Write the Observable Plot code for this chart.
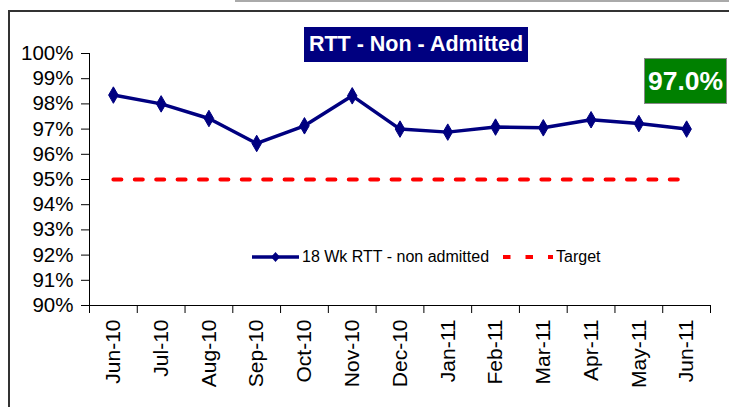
<!DOCTYPE html>
<html><head><meta charset="utf-8">
<script src="https://cdn.jsdelivr.net/npm/d3@7"></script>
<script src="https://cdn.jsdelivr.net/npm/@observablehq/plot@0.6"></script>
<style>
body{margin:0;background:#fff;}
#wrap{position:relative;width:729px;height:407px;overflow:hidden;font-family:Arial,"Liberation Sans",sans-serif;background:#fff;}
#chart{position:absolute;left:0;top:0;}
.frameL{position:absolute;left:8px;top:10px;width:2px;height:400px;background:#333;}
.frameT{position:absolute;left:8px;top:10px;width:730px;height:2px;background:#333;}
.greyT{position:absolute;left:235px;top:0px;width:500px;height:2px;background:#aaa;}
#title{position:absolute;left:304px;top:27px;width:224px;height:35px;background:#000080;color:#fff;font-weight:bold;font-size:21.5px;line-height:35px;text-align:center;white-space:nowrap;}
#value{position:absolute;left:644px;top:58px;width:81px;height:44px;background:#008000;border:1px solid #888;color:#fff;font-weight:bold;font-size:26.5px;line-height:44px;text-align:center;}
#legend{position:absolute;left:252px;top:246px;height:20px;font-size:16px;line-height:20px;white-space:nowrap;color:#000;}
#legend span, #legend svg{vertical-align:middle;}
</style></head><body>
<div id="wrap">
  <div id="chart"></div>
  <div class="greyT"></div>
  <div class="frameL"></div>
  <div class="frameT"></div>
  <div id="title">RTT - Non - Admitted</div>
  <div id="value">97.0%</div>
  <div id="legend"></div>
</div>
<script>
const months = ["Jun-10","Jul-10","Aug-10","Sep-10","Oct-10","Nov-10","Dec-10","Jan-11","Feb-11","Mar-11","Apr-11","May-11","Jun-11"];
const rttValues = [0.9835, 0.9800, 0.9742, 0.9643, 0.9713, 0.9832, 0.9700, 0.9688, 0.9708, 0.9705, 0.9737, 0.9722, 0.9700];
const targetValues = [0.95, 0.95, 0.95, 0.95, 0.95, 0.95, 0.95, 0.95, 0.95, 0.95, 0.95, 0.95, 0.95];
const yTicks = [0.90, 0.91, 0.92, 0.93, 0.94, 0.95, 0.96, 0.97, 0.98, 0.99, 1.00];
const seriesName = "18 Wk RTT - non admitted";
const targetName = "Target";
const headline = "97.0%";

const data = months.map((m, i) => ({i, month: m, value: rttValues[i], target: targetValues[i]}));
const idx = months.map((m, i) => i);
const boundaries = months.map((m, i) => i - 0.5).concat([months.length - 0.5]);

const navy = "#000080";
const plot = Plot.plot({
  width: 729, height: 407,
  marginLeft: 89, marginRight: 19, marginTop: 53, marginBottom: 102,
  style: {fontFamily: "Arial, 'Liberation Sans', sans-serif", fontSize: "21px", color: "#000", background: "transparent", overflow: "visible"},
  x: {type: "linear", domain: [-0.5, months.length - 0.5], axis: null, label: null},
  y: {domain: [0.90, 1.00], axis: null, label: null},
  marks: [
    Plot.axisY(yTicks, {tickSize: 8, tickPadding: 8, tickFormat: d3.format(".0%"), fontSize: 20.5, label: null, stroke: "#000", strokeOpacity: 1}),
    Plot.ruleX([-0.5], {stroke: "#000", strokeWidth: 1}),
    Plot.ruleY([0.90], {stroke: "#000", strokeWidth: 1}),
    Plot.axisX(boundaries, {tickSize: 8, tickFormat: () => "", label: null, stroke: "#000", strokeOpacity: 1}),
    Plot.axisX(idx, {tickSize: 0, tickPadding: 14, tickRotate: -90, tickFormat: i => months[i], fontSize: 21, label: null}),
    Plot.line(data, {x: "i", y: "target", stroke: "#ff0000", strokeWidth: 4, strokeDasharray: "8,13.4"}),
    Plot.line(data, {x: "i", y: "value", stroke: navy, strokeWidth: 3.5, strokeLinejoin: "round"}),
    Plot.dot(data, {x: "i", y: "value", symbol: "diamond", r: 5, fill: navy, stroke: navy, strokeWidth: 1})
  ]
});
document.getElementById("chart").appendChild(plot);
document.getElementById("title").textContent = "RTT - Non - Admitted";
document.getElementById("value").textContent = headline;
document.getElementById("legend").innerHTML =
  `<svg width="48" height="12"><line x1="0" y1="6" x2="47" y2="6" stroke="${navy}" stroke-width="3.5"/><path d="M23.5,1 L28,6 L23.5,11 L19,6 Z" fill="${navy}"/></svg><span style="margin-left:2px">${seriesName}</span>` +
  `<svg width="50" height="12" style="margin-left:14px"><line x1="0" y1="6" x2="50" y2="6" stroke="#ff0000" stroke-width="4" stroke-dasharray="7.5,15"/></svg><span style="margin-left:3px">${targetName}</span>`;
</script>
</body></html>
